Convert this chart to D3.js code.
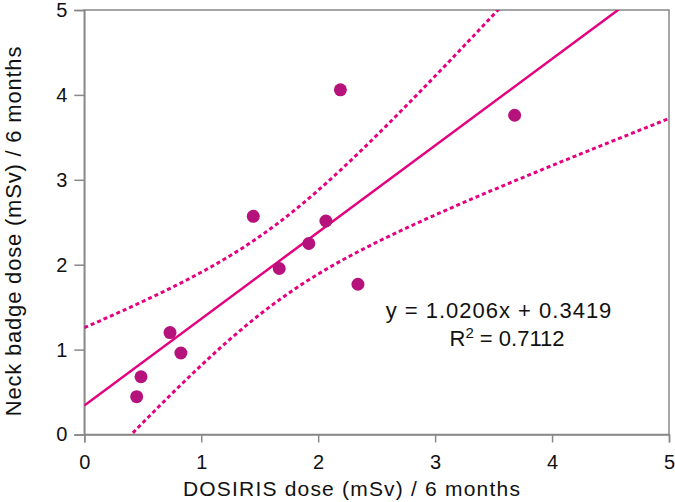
<!DOCTYPE html>
<html><head><meta charset="utf-8">
<script src="https://cdn.jsdelivr.net/npm/d3@7"></script>
<style>body{margin:0;background:#fff}svg{display:block}</style>
</head><body>
<svg id="c" width="675" height="502"></svg>
<script>
const xValues = [0.448, 0.485, 0.733, 0.826, 1.445, 1.667, 1.920, 2.066, 2.340, 2.190, 3.680];
const yValues = [0.445, 0.680, 1.200, 0.960, 2.570, 1.955, 2.250, 2.515, 1.770, 4.060, 3.760];
const xTicks = [0, 1, 2, 3, 4, 5];
const yTicks = [0, 1, 2, 3, 4, 5];
const fitSlope = 1.0206, fitIntercept = 0.3419;
const equationText = "y = 1.0206x + 0.3419";
const r2Value = "0.7112";
const xTitle = "DOSIRIS dose (mSv) / 6 months";
const yTitle = "Neck badge dose (mSv) / 6 months";

const svg = d3.select("#c");
const L = 84.3, R = 669, T = 10, B = 434.5;
const x = d3.scaleLinear().domain([0, 5]).range([L, R]);
const y = d3.scaleLinear().domain([0, 5]).range([B, T]);
const axisColor = "#888";
const font = "'Liberation Sans', Arial, sans-serif";

svg.append("clipPath").attr("id", "clip").append("rect")
  .attr("x", L).attr("y", T).attr("width", R - L).attr("height", B - T);

// frame
svg.append("rect").attr("x", L).attr("y", T).attr("width", R - L).attr("height", B - T)
  .attr("fill", "none").attr("stroke", axisColor).attr("stroke-width", 1.5);

// axes
const xa = svg.append("g").attr("transform", `translate(0,${B})`)
  .call(d3.axisBottom(x).tickValues(xTicks).tickSize(8).tickPadding(12).tickFormat(d3.format("d")));
const ya = svg.append("g").attr("transform", `translate(${L},0)`)
  .call(d3.axisLeft(y).tickValues(yTicks).tickSize(10).tickPadding(7).tickFormat(d3.format("d")));
[xa, ya].forEach(g => {
  g.select(".domain").attr("stroke", axisColor).attr("stroke-width", 1.5);
  g.selectAll(".tick line").attr("stroke", axisColor).attr("stroke-width", 1.5);
  g.selectAll(".tick text").attr("fill", "#111").style("font-family", font).style("font-size", "20px");
});

// regression + 95% CI for the mean, computed from the data
const n = xValues.length;
const mx = d3.mean(xValues);
const sxx = d3.sum(xValues, v => (v - mx) ** 2);
const sse = d3.sum(xValues.map((v, i) => (yValues[i] - (fitSlope * v + fitIntercept)) ** 2));
const s = Math.sqrt(sse / (n - 2));
const tval = 2.262;
const grid = d3.range(0, 5.0001, 0.02);
const band = grid.map(v => {
  const p = fitSlope * v + fitIntercept;
  const hw = tval * s * Math.sqrt(1 / n + (v - mx) ** 2 / sxx);
  return { x: v, lo: p - hw, hi: p + hw };
});
const pink = "#e5007f";
const plot = svg.append("g").attr("clip-path", "url(#clip)");
plot.append("path").datum(band)
  .attr("d", d3.line().x(d => x(d.x)).y(d => y(d.hi)))
  .attr("fill", "none").attr("stroke", pink).attr("stroke-width", 3).attr("stroke-dasharray", "4,3");
plot.append("path").datum(band)
  .attr("d", d3.line().x(d => x(d.x)).y(d => y(d.lo)))
  .attr("fill", "none").attr("stroke", pink).attr("stroke-width", 3).attr("stroke-dasharray", "4,3");
plot.append("line")
  .attr("x1", x(0)).attr("y1", y(fitIntercept))
  .attr("x2", x(5)).attr("y2", y(fitSlope * 5 + fitIntercept))
  .attr("stroke", pink).attr("stroke-width", 2.5);

// points
svg.append("g").selectAll("circle").data(xValues).join("circle")
  .attr("cx", d => x(d)).attr("cy", (d, i) => y(yValues[i])).attr("r", 6.5)
  .attr("fill", "#b5137b");

// equation
svg.append("text").attr("x", 499).attr("y", 318).attr("text-anchor", "middle")
  .style("font-family", font).style("font-size", "22px").style("letter-spacing", "1px")
  .attr("fill", "#111").text(equationText);
const r2 = svg.append("text").attr("x", 507).attr("y", 346).attr("text-anchor", "middle")
  .style("font-family", font).style("font-size", "22px").attr("fill", "#111");
r2.append("tspan").text("R");
r2.append("tspan").attr("dy", -8).style("font-size", "15px").text("2");
r2.append("tspan").attr("dy", 8).text(" = " + r2Value);

// titles
svg.append("text").attr("x", 352).attr("y", 496).attr("text-anchor", "middle")
  .style("font-family", font).style("font-size", "21px").style("letter-spacing", "1.2px")
  .attr("fill", "#111").text(xTitle);
svg.append("text").attr("transform", "translate(21,231) rotate(-90)").attr("text-anchor", "middle")
  .style("font-family", font).style("font-size", "22px").style("letter-spacing", "0.8px")
  .attr("fill", "#111").text(yTitle);
</script>
</body></html>
